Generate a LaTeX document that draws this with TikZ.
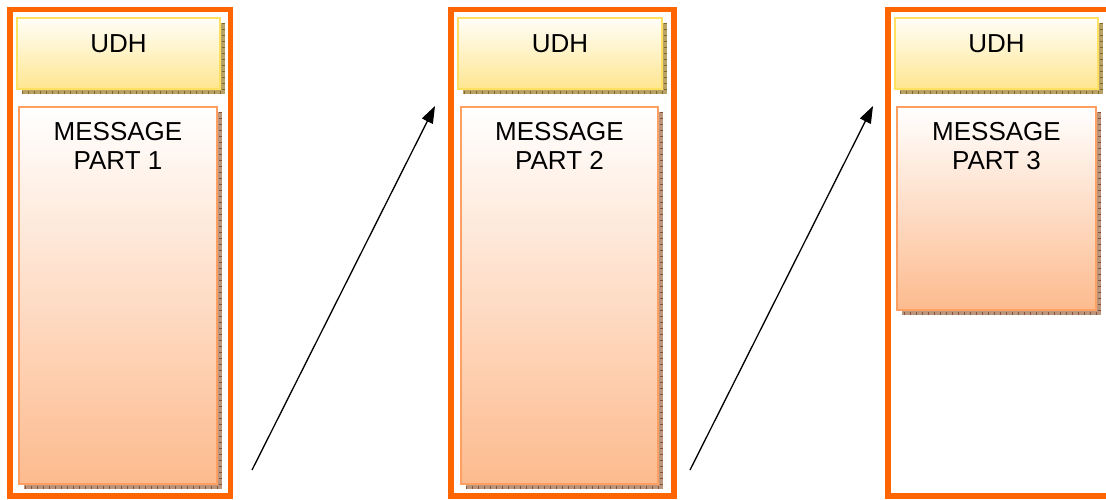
\documentclass[tikz,border=0pt]{standalone}
\usepackage{fontspec}
\setmainfont{Liberation Sans}
\usetikzlibrary{arrows.meta,calc,shadows}

\definecolor{frameorange}{HTML}{FF6600}
\definecolor{udhline}{HTML}{FFE060}
\definecolor{udhbottom}{HTML}{FFE690}
\definecolor{udhtop}{HTML}{FFFEF8}
\definecolor{udhshade}{HTML}{B9A266}
\definecolor{udhtick}{HTML}{7E6628}
\definecolor{msgline}{HTML}{FFA062}
\definecolor{msgbottom}{HTML}{FDBB8E}
\definecolor{msgshade}{HTML}{BB967F}
\definecolor{msgtick}{HTML}{875234}

\tikzset{
  partframe/.style={draw=frameorange, line width=5.5pt},
  udhbox/.style={rectangle, draw=udhline, line width=1.8pt,
    top color=udhtop, bottom color=udhbottom, inner sep=0pt,
    general shadow={fill=udhshade, shadow xshift=4.5pt, shadow yshift=-4.5pt}},
  msgbox/.style={rectangle, draw=msgline, line width=1.8pt,
    top color=white, bottom color=msgbottom, inner sep=0pt,
    general shadow={fill=msgshade, shadow xshift=4.5pt, shadow yshift=-4.5pt}},
  ticks/.style={line width=3.6pt, dash pattern=on 1.1pt off 4.9pt},
  boxtext/.style={anchor=north, inner sep=0pt, align=center,
    font=\fontsize{26}{29}\selectfont},
  nextarrow/.style={line width=1.3pt, -{Triangle[length=17pt,width=12pt]}}
}

% hatched edge of a box shadow
\newcommand\shadowticks[2]{%
  \draw[ticks, #2] ($(#1.north east)+(2.6,6)$) -- ($(#1.south east)+(2.6,2.6)$)
                   -- ($(#1.south west)+(6,2.6)$);}

\begin{document}
\begin{tikzpicture}[x=1pt, y=-1pt]
\useasboundingbox (0,0) rectangle (1106,499);
\clip (0,0) rectangle (1106,499);

% outer frames of the three parts
\draw[partframe] (9.8,9.3) rectangle (230.5,496);
\draw[partframe] (451,9.3) rectangle (673.8,496);
\draw[partframe] (888,9.3) rectangle (1120,496);

% part 1
\node[udhbox, minimum width=203pt, minimum height=71pt] (udh1) at (118.5,53.5) {};
\shadowticks{udh1}{udhtick}
\node[boxtext] (udh1t) at ($(udh1.north)+(0,17)$) {UDH};
\node[msgbox, minimum width=198pt, minimum height=377pt] (msg1) at (118,295.5) {};
\shadowticks{msg1}{msgtick}
\node[boxtext] (msg1t) at ($(msg1.north)+(0,16)$) {MESSAGE\\PART 1};

% part 2
\node[udhbox, minimum width=204pt, minimum height=71pt] (udh2) at (560,53.5) {};
\shadowticks{udh2}{udhtick}
\node[boxtext] (udh2t) at ($(udh2.north)+(0,17)$) {UDH};
\node[msgbox, minimum width=197pt, minimum height=377pt] (msg2) at (559.5,295.5) {};
\shadowticks{msg2}{msgtick}
\node[boxtext] (msg2t) at ($(msg2.north)+(0,16)$) {MESSAGE\\PART 2};

% part 3
\node[udhbox, minimum width=203pt, minimum height=71pt] (udh3) at (996.5,53.5) {};
\shadowticks{udh3}{udhtick}
\node[boxtext] (udh3t) at ($(udh3.north)+(0,17)$) {UDH};
\node[msgbox, minimum width=199pt, minimum height=203pt] (msg3) at (996.5,208.5) {};
\shadowticks{msg3}{msgtick}
\node[boxtext] (msg3t) at ($(msg3.north)+(0,16)$) {MESSAGE\\PART 3};

% arrows leading on to the next part
\coordinate (from1) at (252,470);
\coordinate (to2) at (435,106);
\coordinate (from2) at (690,470);
\coordinate (to3) at (873,106);
\draw[nextarrow] (from1) -- (to2);
\draw[nextarrow] (from2) -- (to3);
\end{tikzpicture}
\end{document}
